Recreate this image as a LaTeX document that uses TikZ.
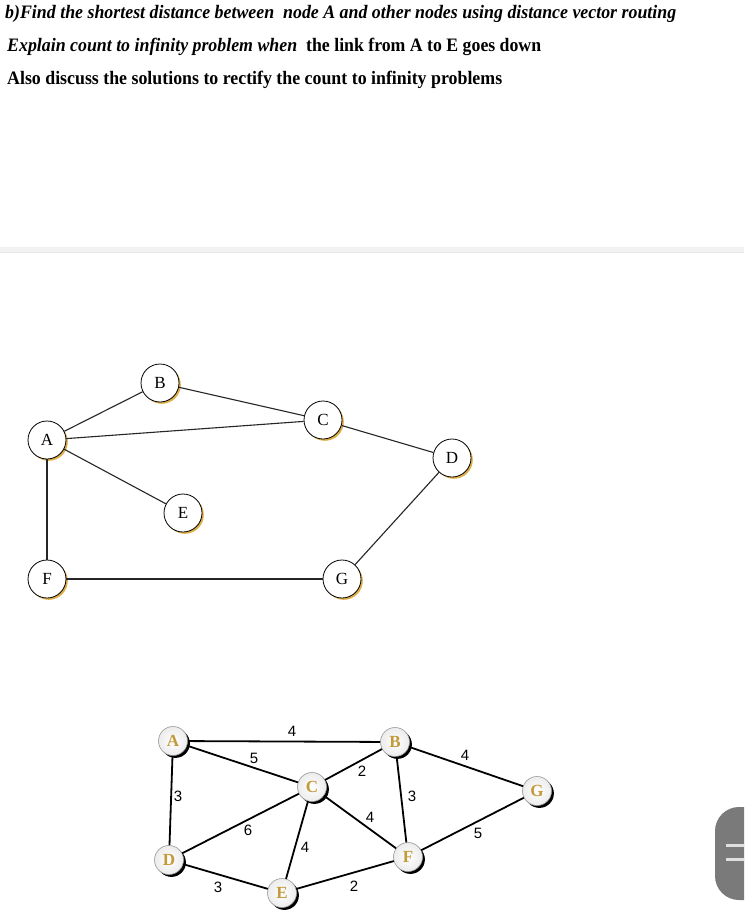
\documentclass[tikz,border=0pt]{standalone}
\usepackage{fontspec}
\setmainfont{Liberation Serif}
\newfontfamily\costfont{Liberation Sans}
\usepackage{graphicx}
\usetikzlibrary{shadows}
\usetikzlibrary{positioning}

\definecolor{goldshade}{HTML}{D9A52E}
\definecolor{goldtext}{HTML}{C39A3A}
\definecolor{pillgray}{HTML}{7A7A7A}

\tikzset{
  router/.style={circle, draw, line width=0.8pt, fill=white, minimum size=38pt,
    inner sep=0pt, font=\fontsize{17}{17}\selectfont,
    drop shadow={shadow xshift=1.8pt, shadow yshift=-1.8pt, fill=goldshade, opacity=0.9}},
  hop/.style={circle, draw=gray!80, line width=0.6pt, inner color=white, outer color=gray!15,
    minimum size=29pt, inner sep=0pt, font=\fontsize{17}{17}\selectfont\bfseries, text=goldtext,
    drop shadow={shadow xshift=2.4pt, shadow yshift=-2.4pt, fill=black, opacity=1}},
  link/.style={line width=1.1pt, draw=black!85},
  wlink/.style={line width=1.8pt},
  cost/.style={font=\costfont\fontsize{15}{15}\selectfont, inner sep=0pt},
  question/.style={anchor=base west, inner sep=0pt, font=\fontsize{19}{19}\selectfont\bfseries}
}

\begin{document}
\begin{tikzpicture}[x=1pt,y=-1pt]
    \clip (0,0) rectangle (744,917);
    \fill[white] (0,0) rectangle (744,917);

    % question text
    \node (q1) [question] at (5,19) {\resizebox{671pt}{\height}{\itshape b)Find the shortest distance between\ \ node A and other nodes using distance vector routing}};
    \node (q2) [question] at (7,52) {\resizebox{290pt}{\height}{\itshape Explain count to infinity problem when}};
    \node (q2b) [question] at (306,52) {\resizebox{235pt}{\height}{the link from A to E goes down}};
    \node (q3) [question] at (7,85) {\resizebox{495pt}{\height}{Also discuss the solutions to rectify the count to infinity problems}};

    % separator band
    \fill[gray!10] (0,247) rectangle (744,253);
    \draw[gray!18, line width=0.6pt] (0,252.5) -- (744,252.5);

    % first network
    \node (A) [router] at (47,440) {A};
    \node (B) [router] at (160,383) {B};
    \node (C) [router] at (323,420) {C};
    \node (D) [router] at (452,458) {D};
    \node (E) [router] at (183,513) {E};
    \node (F) [router] at (47,579) {F};
    \node (G) [router] at (342,579) {G};
    \path (A) edge[link] (B);
    \path (B) edge[link] (C);
    \path (A) edge[link] (C);
    \path (C) edge[link] (D);
    \path (A) edge[link] (E);
    \path (A) edge[link] (F);
    \path (F) edge[link] (G);
    \path (G) edge[link] (D);

    % second network, with costs
    \node (a) [hop] at (173,741) {A};
    \node (b) [hop] at (395,742) {B};
    \node (c) [hop] at (312,787) {C};
    \node (g) [hop] at (537,791) {G};
    \node (d) [hop] at (169,860) {D};
    \node (f) [hop] at (408,857) {F};
    \node (e) [hop] at (282,893) {E};
    \path (a) edge[wlink] (b);
    \path (a) edge[wlink] (c);
    \path (a) edge[wlink] (d);
    \path (b) edge[wlink] (c);
    \path (b) edge[wlink] (g);
    \path (b) edge[wlink] (f);
    \path (c) edge[wlink] (d);
    \path (c) edge[wlink] (e);
    \path (c) edge[wlink] (f);
    \path (d) edge[wlink] (e);
    \path (e) edge[wlink] (f);
    \path (f) edge[wlink] (g);

    \node (ab) [cost] at (292,731) {4};
    \node (ac) [cost] at (254,758) {5};
    \node (bc) [cost] at (362,771) {2};
    \node (bg) [cost] at (465,755) {4};
    \node (ad) [cost] at (178,796) {3};
    \node (bf) [cost] at (412,796) {3};
    \node (cf) [cost] at (370,817) {4};
    \node (cd) [cost] at (248,830) {6};
    \node (ce) [cost] at (305,847) {4};
    \node (fg) [cost] at (478,833) {5};
    \node (de) [cost] at (218,887) {3};
    \node (ef) [cost] at (354,886) {2};

    % side tab
    \fill[pillgray, rounded corners=24pt] (715,807) rectangle (775,900);
    \draw[gray!25, line width=3pt] (726,845) -- (744,845);
    \draw[gray!25, line width=3pt] (726,859) -- (744,859);
\end{tikzpicture}
\end{document}
